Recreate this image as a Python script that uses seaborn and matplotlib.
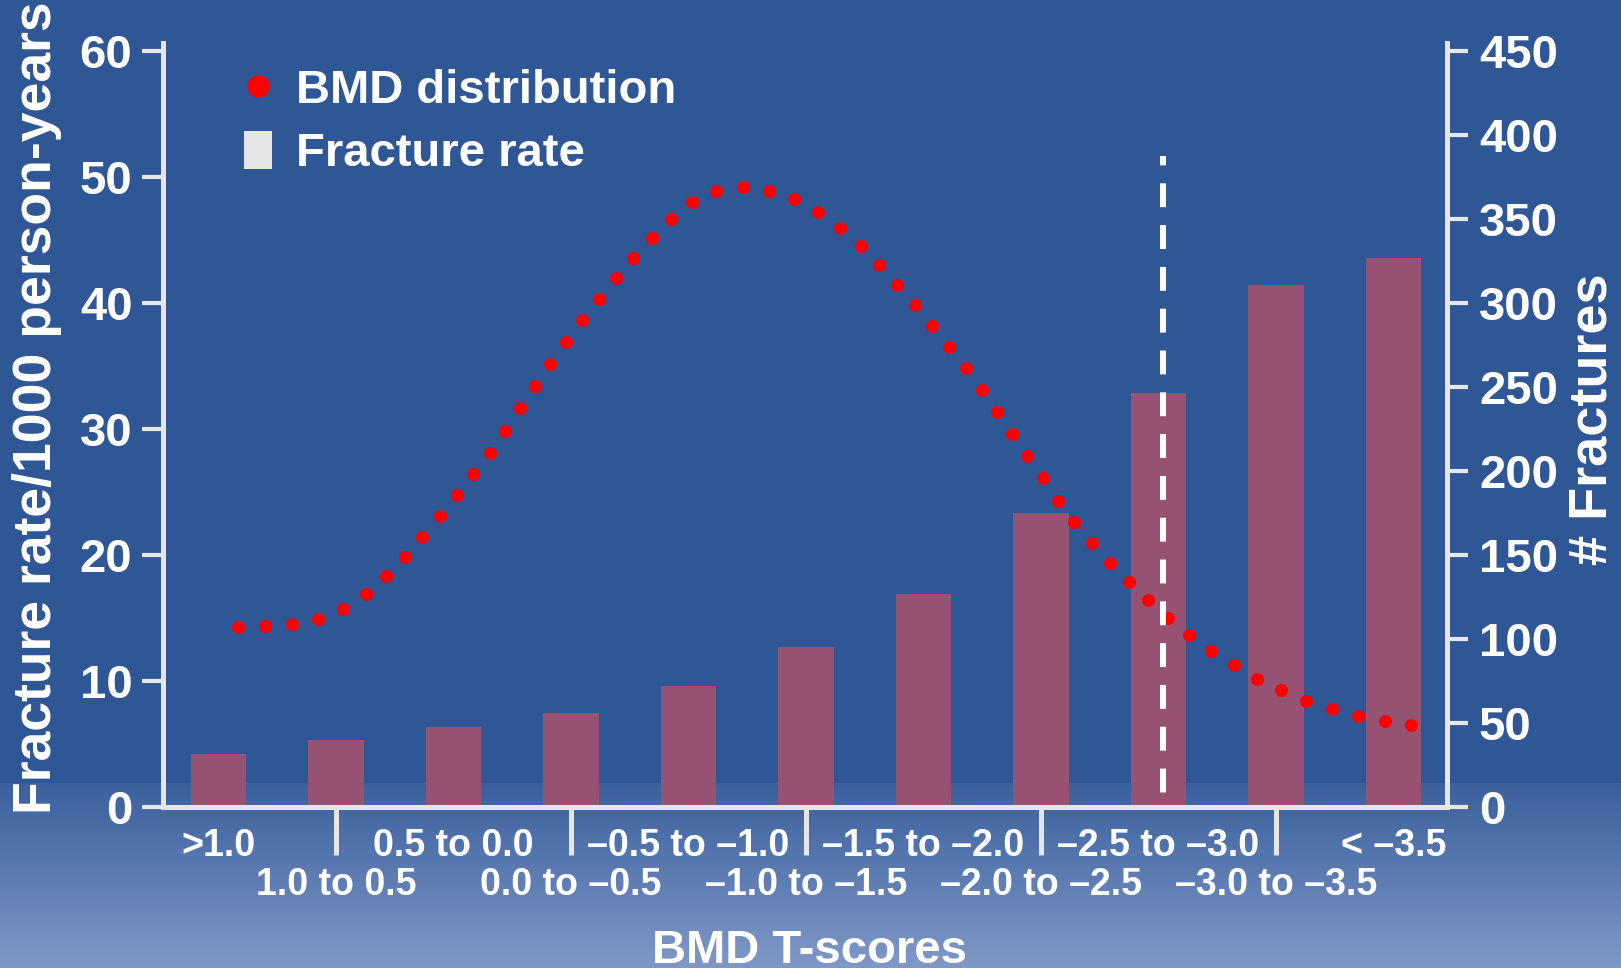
import numpy as np
import pandas as pd
import matplotlib
matplotlib.use("Agg")
import matplotlib.pyplot as plt
import seaborn as sns
from matplotlib.lines import Line2D
from matplotlib.patches import Patch

# T-score bins and fracture rate (per 1000 person-years)
tscore_bins = [">1.0", "1.0 to 0.5", "0.5 to 0.0", "0.0 to \u20130.5",
               "\u20130.5 to \u20131.0", "\u20131.0 to \u20131.5",
               "\u20131.5 to \u20132.0", "\u20132.0 to \u20132.5",
               "\u20132.5 to \u20133.0", "\u20133.0 to \u20133.5", "< \u20133.5"]
fracture_rate = [4.2, 5.3, 6.3, 7.4, 9.6, 12.7, 16.9, 23.3, 32.8, 41.4, 43.5]

# BMD distribution curve: position along the bin axis and height (left-axis units)
bmd_pos = [0.165, 0.394, 0.624, 0.846, 1.061, 1.252, 1.425, 1.587, 1.735, 1.883,
           2.028, 2.169, 2.307, 2.437, 2.569, 2.695, 2.822, 2.956, 3.094, 3.238,
           3.386, 3.531, 3.686, 3.849, 4.029, 4.237, 4.463, 4.689, 4.897, 5.100,
           5.291, 5.464, 5.623, 5.778, 5.926, 6.070, 6.215, 6.360, 6.498, 6.628,
           6.756, 6.882, 7.013, 7.144, 7.281, 7.433, 7.588, 7.747, 7.913, 8.083,
           8.262, 8.445, 8.639, 8.841, 9.044, 9.257, 9.476, 9.698, 9.924, 10.150]
bmd_height = [14.29, 14.34, 14.50, 14.92, 15.71, 16.88, 18.29, 19.82, 21.40, 23.07,
              24.74, 26.40, 28.10, 29.84, 31.62, 33.39, 35.16, 36.90, 38.63, 40.27,
              41.94, 43.55, 45.13, 46.67, 47.97, 48.87, 49.21, 48.89, 48.21, 47.20,
              45.95, 44.50, 43.01, 41.43, 39.79, 38.15, 36.48, 34.83, 33.10, 31.34,
              29.58, 27.79, 26.06, 24.29, 22.63, 20.96, 19.37, 17.83, 16.40, 14.98,
              13.60, 12.36, 11.21, 10.17, 9.26, 8.41, 7.74, 7.22, 6.83, 6.50]

# Osteoporosis threshold marker
threshold_pos = 8.04
threshold_top = 51.6

left_ticks = [0, 10, 20, 30, 40, 50, 60]
right_ticks = [0, 50, 100, 150, 200, 250, 300, 350, 400, 450]
right_per_left = 7.5

BG_TOP = np.array([47, 86, 149]) / 255
BG_MID = np.array([58, 96, 158]) / 255
BG_BOTTOM = np.array([128, 152, 198]) / 255
BAR_COLOR = "#965273"
AXIS_COLOR = "#e6e6e6"

sns.set_style("ticks")
plt.rcParams["font.family"] = ["Liberation Sans", "DejaVu Sans"]
plt.rcParams["font.weight"] = "bold"
plt.rcParams["axes.labelweight"] = "bold"

W, H = 1621, 968
fig = plt.figure(figsize=(W / 100, H / 100), dpi=100)

# background with a soft gradient along the bottom
grad = np.zeros((H, 1, 3))
start = 783
for r in range(H):
    if r < start:
        grad[r, 0] = BG_TOP
    else:
        t = (r - start) / (H - 1 - start)
        grad[r, 0] = BG_MID + (BG_BOTTOM - BG_MID) * t
bg = fig.add_axes([0, 0, 1, 1], zorder=-10)
bg.imshow(grad, aspect="auto", extent=[0, 1, 0, 1], origin="upper")
bg.axis("off")

# main axes, positioned in pixels
x0, x1 = 163, 1447
y_bottom, y_top = 806.7, 43
ax = fig.add_axes([x0 / W, (H - y_bottom) / H, (x1 - x0) / W, (y_bottom - y_top) / H])
ax.set_facecolor("none")

df = pd.DataFrame({"pos": np.arange(len(tscore_bins)), "rate": fracture_rate})
sns.barplot(data=df, x="pos", y="rate", native_scale=True, orient="x", width=0.47,
            color=BAR_COLOR, saturation=1, errorbar=None, linewidth=0,
            edgecolor="none", ax=ax, zorder=2)

sns.scatterplot(x=bmd_pos, y=bmd_height, ax=ax, color="#ff0000", s=88,
                linewidth=0, zorder=3, legend=False)

ax.plot([threshold_pos, threshold_pos], [threshold_top, 0], color="white", lw=4.3,
        linestyle=(2.43, (4.0, 3.0)), solid_capstyle="butt", dash_capstyle="butt",
        zorder=4)

ymax = 60.6
ax.set_xlim(-0.472, 10.455)
ax.set_ylim(0, ymax)
ax.set_yticks(left_ticks)
ax.set_yticklabels([str(v) for v in left_ticks])

# x labels in two staggered rows: even bins on top (no tick), odd bins below
# the separator ticks
even = list(range(0, len(tscore_bins), 2))
odd = list(range(1, len(tscore_bins), 2))
ax.xaxis.remove_overlapping_locs = False
ax.set_xticks(even)
ax.set_xticklabels([tscore_bins[i] for i in even], fontsize=27, color="white",
                   fontweight="bold")
ax.set_xticks(odd, minor=True)
ax.set_xticklabels([tscore_bins[i] for i in odd], minor=True, fontsize=27,
                   color="white", fontweight="bold")
ax.tick_params(axis="x", which="major", length=0, pad=15)
ax.tick_params(axis="x", which="minor", length=34.5, width=3.6, color=AXIS_COLOR,
               direction="out", pad=9.2)
ax.tick_params(axis="y", length=15, width=3, color=AXIS_COLOR, pad=7,
               labelsize=34, labelcolor="white", direction="out")
for lab in ax.get_yticklabels():
    lab.set_fontweight("bold")

for side in ["left", "bottom"]:
    ax.spines[side].set_color(AXIS_COLOR)
    ax.spines[side].set_linewidth(3.6)
for side in ["top", "right"]:
    ax.spines[side].set_visible(False)

ax.set_ylabel("Fracture rate/1000 person-years", fontsize=38.5, color="white",
              fontweight="bold", va="center", ha="center")
ax.yaxis.set_label_coords((37 - x0) / (x1 - x0), (y_bottom - 408) / (y_bottom - y_top))
ax.set_xlabel("BMD T-scores", fontsize=34, color="white", fontweight="bold",
              va="baseline", ha="center")
ax.xaxis.set_label_coords((810 - x0) / (x1 - x0), (y_bottom - 963) / (y_bottom - y_top))

# secondary scale: number of fractures
ax2 = ax.twinx()
ax2.set_ylim(0, ymax * right_per_left)
ax2.set_yticks(right_ticks)
ax2.set_yticklabels([str(v) for v in right_ticks])
ax2.tick_params(axis="y", length=15, width=3, color=AXIS_COLOR, pad=8,
                labelsize=34, labelcolor="white", direction="out")
for lab in ax2.get_yticklabels():
    lab.set_fontweight("bold")
for side in ["left", "top", "bottom"]:
    ax2.spines[side].set_visible(False)
ax2.spines["right"].set_color(AXIS_COLOR)
ax2.spines["right"].set_linewidth(3.6)
ax2.set_ylabel("# Fractures", fontsize=39, color="white", fontweight="bold",
               rotation=90)
ax2.yaxis.label.set_verticalalignment("center")
ax2.yaxis.set_label_coords((1593 - x0) / (x1 - x0), (y_bottom - 419) / (y_bottom - y_top))

handles = [Line2D([], [], marker="o", ls="", color="#ff0000", markersize=16,
                  markeredgewidth=0),
           Patch(facecolor=AXIS_COLOR, edgecolor="none")]
leg = ax.legend(handles, ["BMD distribution", "Fracture rate"], loc="upper left",
                bbox_to_anchor=((244 - x0) / (x1 - x0), (y_bottom - 68) / (y_bottom - y_top)),
                frameon=False, fontsize=34, handlelength=0.59, handleheight=0.87,
                handletextpad=0.52, labelspacing=0.37, borderpad=0, borderaxespad=0,
                labelcolor="white")
for t in leg.get_texts():
    t.set_fontweight("bold")

fig.savefig("out.png", dpi=100)
